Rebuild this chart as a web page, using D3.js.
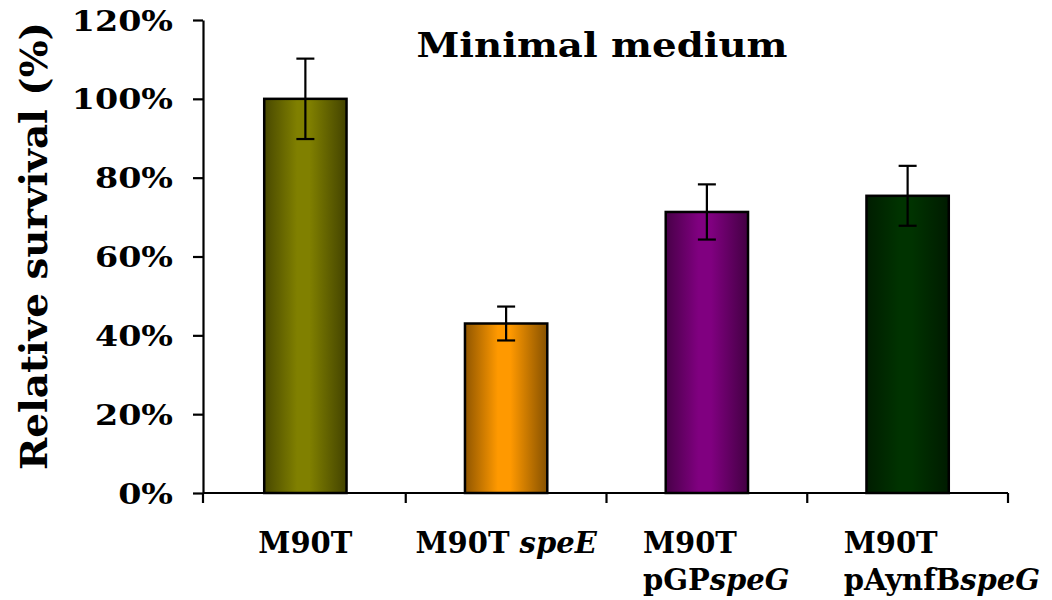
<!DOCTYPE html>
<html><head><meta charset="utf-8">
<script src="https://cdn.jsdelivr.net/npm/d3@7"></script>
<style>body{margin:0;background:#fff}svg{display:block}text{font-family:"DejaVu Serif",serif;font-weight:bold;fill:#000}</style>
</head><body><svg id="c" width="1052" height="600"></svg>
<script>
const categories = ["M90T", "M90T speE", "M90T pGPspeG", "M90T pAynfBspeG"];
const labelLines = [
  [[["M90T", false]]],
  [[["M90T ", false], ["speE", true]]],
  [[["M90T", false]], [["pGP", false], ["speG", true]]],
  [[["M90T", false]], [["pAynfB", false], ["speG", true]]]
];
const values = [100, 43, 71.3, 75.4];
const errors = [10.2, 4.3, 7, 7.6];
const colors = ["#808000", "#ff9900", "#800080", "#003300"];
const yTicks = [0, 20, 40, 60, 80, 100, 120];
const title = "Minimal medium";
const yTitle = "Relative survival (%)";

const svg = d3.select("#c");
const x0 = 205, x1 = 1008, yTop = 20, yBot = 493;
const x = d3.scaleBand().domain(categories).range([x0, x1]).paddingInner(0.59).paddingOuter(0.295);
const xb = d3.scaleBand().domain(categories).range([x0, x1]);
const y = d3.scaleLinear().domain([0, 120]).range([yBot, yTop]);

const defs = svg.append("defs");
colors.forEach((c, i) => {
  const g = defs.append("linearGradient").attr("id", "g" + i).attr("x1", 0).attr("x2", 1).attr("y1", 0).attr("y2", 0);
  const base = d3.color(c);
  g.append("stop").attr("offset", "0%").attr("stop-color", base.darker(1.6));
  g.append("stop").attr("offset", "40%").attr("stop-color", c);
  g.append("stop").attr("offset", "55%").attr("stop-color", c);
  g.append("stop").attr("offset", "100%").attr("stop-color", base.darker(1.8));
});

// bars
svg.append("g").selectAll("rect").data(categories).join("rect")
  .attr("x", d => x(d)).attr("y", (d, i) => y(values[i]))
  .attr("width", x.bandwidth()).attr("height", (d, i) => yBot - y(values[i]))
  .attr("fill", (d, i) => `url(#g${i})`).attr("stroke", "#000").attr("stroke-width", 2.5);

// error bars
const eb = svg.append("g").attr("stroke", "#000").attr("stroke-width", 2.2);
categories.forEach((c, i) => {
  const cx = x(c) + x.bandwidth() / 2;
  eb.append("line").attr("x1", cx).attr("x2", cx).attr("y1", y(values[i] + errors[i])).attr("y2", y(values[i] - errors[i]));
  [values[i] + errors[i], values[i] - errors[i]].forEach(v => {
    eb.append("line").attr("x1", cx - 9).attr("x2", cx + 9).attr("y1", y(v)).attr("y2", y(v));
  });
});

// y axis
const ya = svg.append("g").attr("transform", `translate(${x0 - 2},0)`)
  .call(d3.axisLeft(y).tickValues(yTicks).tickFormat(d => d + "%").tickSize(10).tickSizeOuter(0));
ya.select(".domain").attr("stroke-width", 2.2);
ya.selectAll(".tick line").attr("stroke-width", 2.2);
ya.selectAll(".tick text").attr("font-size", 28).attr("x", 0).attr("dy", "0.36em")
  .attr("transform", "translate(-30,0) scale(1.19,1)");

// x axis
const xa = svg.append("g").attr("transform", `translate(0,${yBot})`);
xa.append("line").attr("x1", x0 - 2).attr("x2", x1).attr("y1", 0).attr("y2", 0).attr("stroke", "#000").attr("stroke-width", 2.2);
const bounds = [x0 - 2].concat(categories.map(c => xb(c) + xb.bandwidth()));
xa.selectAll("line.tk").data(bounds).join("line").attr("class", "tk")
  .attr("x1", d => d).attr("x2", d => d).attr("y1", 0).attr("y2", 10).attr("stroke", "#000").attr("stroke-width", 2.2);

// x labels
categories.forEach((c, i) => {
  const cx = xb(c) + xb.bandwidth() / 2;
  const lines = labelLines[i];
  lines.forEach((ln, j) => {
    const t = svg.append("text").attr("font-size", 29).attr("y", 553 + j * 37);
    if (lines.length === 1) t.attr("x", cx).attr("text-anchor", "middle");
    else t.attr("x", cx - 64).attr("text-anchor", "start");
    ln.forEach(([s, it]) => t.append("tspan").text(s).attr("font-style", it ? "italic" : "normal"));
  });
});

// title
svg.append("text").attr("x", 602).attr("y", 57).attr("text-anchor", "middle").attr("font-size", 33)
  .attr("textLength", 371).attr("lengthAdjust", "spacingAndGlyphs").text(title);
svg.append("text").attr("transform", "translate(47,246) rotate(-90)").attr("text-anchor", "middle").attr("font-size", 38)
  .attr("textLength", 448).attr("lengthAdjust", "spacingAndGlyphs").text(yTitle);
</script></body></html>
